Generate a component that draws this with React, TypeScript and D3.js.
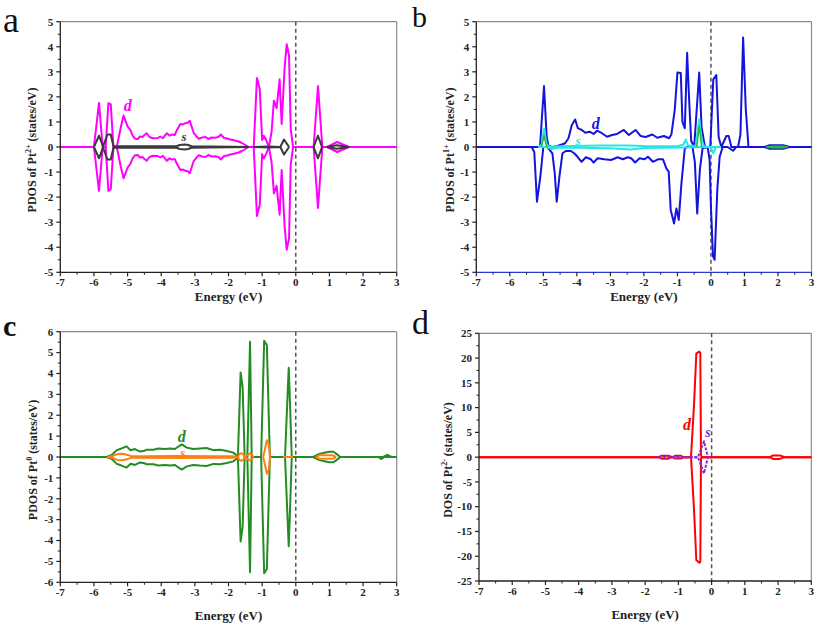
import React from 'react';
import * as d3 from 'd3';

type Pt = [number, number];

const energyTicks = [-7, -6, -5, -4, -3, -2, -1, 0, 1, 2, 3];
const yTicksAB = [-5, -4, -3, -2, -1, 0, 1, 2, 3, 4, 5];
const yTicksC = [-6, -5, -4, -3, -2, -1, 0, 1, 2, 3, 4, 5, 6];
const yTicksD = [-25, -20, -15, -10, -5, 0, 5, 10, 15, 20, 25];

// ---------- Panel a : Pt2+ ----------
const aDUp: Pt[] = [[-7,0],[-6.0,0],[-5.85,1.76],[-5.74,0],[-5.65,0],[-5.57,1.75],[-5.5,1.7],[-5.42,0],[-5.32,0],[-5.2,0.8],[-5.12,1.26],[-5.05,1.0],[-5.0,0.82],[-4.92,0.68],[-4.85,0.45],[-4.78,0.33],[-4.7,0.32],[-4.63,0.42],[-4.55,0.4],[-4.5,0.48],[-4.43,0.55],[-4.35,0.4],[-4.25,0.35],[-4.1,0.36],[-4.03,0.42],[-3.95,0.35],[-3.83,0.55],[-3.75,0.45],[-3.68,0.5],[-3.6,0.48],[-3.53,0.68],[-3.43,0.92],[-3.35,0.9],[-3.28,0.95],[-3.2,0.98],[-3.15,1.05],[-3.08,0.75],[-3.03,0.55],[-2.95,0.42],[-2.88,0.33],[-2.78,0.38],[-2.68,0.4],[-2.6,0.32],[-2.5,0.38],[-2.4,0.37],[-2.3,0.4],[-2.23,0.5],[-2.13,0.36],[-2.04,0.34],[-1.95,0.3],[-1.84,0.27],[-1.7,0.22],[-1.6,0.16],[-1.5,0.08],[-1.4,0],[-1.25,0],[-1.155,2.75],[-1.07,2.3],[-1.0,0.28],[-0.95,0.45],[-0.89,0.3],[-0.8,0],[-0.72,0.6],[-0.65,1.85],[-0.57,1.55],[-0.48,2.7],[-0.42,0.92],[-0.33,3.2],[-0.27,4.1],[-0.2,3.65],[-0.15,0.7],[-0.08,0],[0.53,0],[0.66,2.43],[0.79,0],[0.93,0],[1.23,0.2],[1.58,0],[3,0]];
const aDDown: Pt[] = [[-7,0],[-6.0,0],[-5.85,-1.75],[-5.74,0],[-5.65,0],[-5.57,-1.75],[-5.5,-1.68],[-5.42,0],[-5.32,0],[-5.2,-0.8],[-5.12,-1.25],[-5.05,-1.0],[-5.0,-0.82],[-4.92,-0.68],[-4.85,-0.45],[-4.78,-0.33],[-4.7,-0.32],[-4.63,-0.42],[-4.55,-0.4],[-4.5,-0.48],[-4.43,-0.55],[-4.35,-0.4],[-4.25,-0.35],[-4.1,-0.36],[-4.03,-0.42],[-3.95,-0.35],[-3.83,-0.55],[-3.75,-0.45],[-3.68,-0.5],[-3.6,-0.48],[-3.53,-0.68],[-3.43,-0.92],[-3.35,-0.9],[-3.28,-0.95],[-3.2,-0.98],[-3.15,-1.05],[-3.08,-0.75],[-3.03,-0.55],[-2.95,-0.42],[-2.88,-0.33],[-2.78,-0.38],[-2.68,-0.4],[-2.6,-0.32],[-2.5,-0.38],[-2.4,-0.37],[-2.3,-0.4],[-2.23,-0.5],[-2.13,-0.36],[-2.04,-0.34],[-1.95,-0.3],[-1.84,-0.27],[-1.7,-0.22],[-1.6,-0.16],[-1.5,-0.08],[-1.4,0],[-1.25,0],[-1.155,-2.75],[-1.07,-2.3],[-1.0,-0.28],[-0.95,-0.45],[-0.89,-0.3],[-0.8,0],[-0.72,-0.6],[-0.65,-1.85],[-0.57,-1.55],[-0.48,-2.7],[-0.42,-0.92],[-0.33,-3.2],[-0.27,-4.1],[-0.2,-3.65],[-0.15,-0.7],[-0.08,0],[0.53,0],[0.66,-2.43],[0.79,0],[0.93,0],[1.23,-0.2],[1.58,0],[3,0]];
const aSUp: Pt[][] = [
  [[-6.0,0],[-5.85,0.45],[-5.73,0.02],[-5.6,0.5],[-5.5,0.5],[-5.42,0.03],[-5.3,0.03],[-3.55,0.03],[-3.45,0.08],[-3.3,0.1],[-3.2,0.08],[-3.1,0.03],[-1.4,0]],
  [[-1.25,0],[-0.8,0.02],[-0.46,0],[-0.35,0.3],[-0.2,0]],
  [[0.53,0],[0.66,0.45],[0.78,0]],
  [[0.92,0],[1.22,0.07],[1.58,0]],
];
const aSDown: Pt[][] = [
  [[-6.0,0],[-5.85,-0.45],[-5.73,-0.02],[-5.6,-0.5],[-5.5,-0.5],[-5.42,-0.03],[-5.3,-0.03],[-3.55,-0.03],[-3.45,-0.08],[-3.3,-0.1],[-3.2,-0.08],[-3.1,-0.03],[-1.4,0]],
  [[-1.25,0],[-0.8,-0.02],[-0.46,0],[-0.35,-0.3],[-0.2,0]],
  [[0.53,0],[0.66,-0.45],[0.78,0]],
  [[0.92,0],[1.22,-0.07],[1.58,0]],
];

// ---------- Panel b : Pt1+ ----------
const bDUp: Pt[] = [[-7,0],[-5.1,0],[-4.98,2.43],[-4.9,0.4],[-4.85,0.05],[-4.75,0],[-4.6,0.03],[-4.45,0.1],[-4.35,0.15],[-4.25,0.35],[-4.15,0.88],[-4.05,1.1],[-3.97,0.75],[-3.85,0.68],[-3.75,0.57],[-3.62,0.61],[-3.5,0.52],[-3.4,0.65],[-3.25,0.55],[-3.1,0.41],[-2.95,0.48],[-2.8,0.52],[-2.6,0.68],[-2.45,0.48],[-2.25,0.68],[-2.1,0.44],[-1.95,0.4],[-1.75,0.5],[-1.6,0.37],[-1.4,0.44],[-1.25,0.35],[-1.18,0.5],[-1.08,1.48],[-1.0,2.97],[-0.9,2.95],[-0.85,1.0],[-0.78,0.75],[-0.71,3.76],[-0.65,1.87],[-0.59,0.25],[-0.5,0],[-0.35,2.97],[-0.28,0.8],[-0.18,0],[-0.02,0],[0.07,2.7],[0.16,2.87],[0.23,0.4],[0.31,0],[0.46,0.44],[0.53,0.44],[0.61,0],[0.81,0],[0.88,0.5],[0.96,4.37],[1.04,1.5],[1.12,0],[1.6,0],[1.75,0.07],[2.15,0.07],[2.35,0],[3,0]];
const bDDown: Pt[] = [[-7,0],[-5.35,0],[-5.27,-0.2],[-5.19,-2.18],[-5.09,-1.18],[-5.0,0],[-4.88,0],[-4.73,-0.25],[-4.66,-1.05],[-4.6,-2.18],[-4.52,-1.18],[-4.43,-0.25],[-4.33,-0.16],[-4.18,-0.16],[-4.08,-0.25],[-3.98,-0.39],[-3.86,-0.59],[-3.73,-0.41],[-3.58,-0.49],[-3.5,-0.62],[-3.38,-0.45],[-3.18,-0.49],[-2.98,-0.52],[-2.78,-0.41],[-2.63,-0.49],[-2.48,-0.41],[-2.38,-0.45],[-2.26,-0.62],[-2.13,-0.45],[-1.98,-0.49],[-1.88,-0.39],[-1.73,-0.59],[-1.58,-0.49],[-1.43,-0.49],[-1.33,-0.85],[-1.26,-0.98],[-1.2,-2.51],[-1.1,-3.05],[-1.03,-2.45],[-0.96,-2.91],[-0.88,-1.45],[-0.78,-0.05],[-0.7,0],[-0.55,0],[-0.48,-0.6],[-0.41,-2.65],[-0.33,-0.9],[-0.25,-0.05],[-0.1,0],[-0.04,-0.5],[0.0,-2.38],[0.06,-4.35],[0.11,-4.5],[0.19,-1.7],[0.26,-0.39],[0.35,0],[0.5,0],[0.66,-0.15],[0.75,0],[1.6,0],[1.75,-0.07],[2.15,-0.07],[2.35,0],[3,0]];
const bSUp: Pt[] = [[-5.15,0],[-5.05,0.1],[-4.98,0.72],[-4.9,0.1],[-4.8,0],[-4.5,0.03],[-3.3,0.06],[-2.5,0.06],[-2.0,0.04],[-1.0,0.03],[-0.82,0.1],[-0.75,0.3],[-0.68,0.05],[-0.45,0.05],[-0.4,0.6],[-0.35,1.1],[-0.28,0.3],[-0.2,0],[0.3,0]];
const bSDown: Pt[] = [[-5.15,0],[-4.9,0],[-4.75,-0.08],[-4.55,-0.02],[-3.0,-0.05],[-2.4,-0.1],[-2.0,-0.04],[-0.8,-0.02],[-0.2,0],[-0.02,0],[0.07,-0.25],[0.15,0],[0.3,0]];
const bPUp: Pt[][] = [[[-5.06,0],[-4.98,0.45],[-4.9,0]], [[-0.42,0],[-0.35,0.85],[-0.28,0]], [[1.65,0],[1.8,0.03],[2.15,0.03],[2.3,0]]];
const bPDown: Pt[][] = [[[1.65,0],[1.8,-0.03],[2.15,-0.03],[2.3,0]]];

// ---------- Panel c : Pt0 ----------
const cDUp: Pt[] = [[-7,0],[-5.62,0],[-5.47,0.1],[-5.32,0.33],[-5.18,0.41],[-5.03,0.51],[-4.91,0.32],[-4.78,0.38],[-4.63,0.26],[-4.5,0.3],[-4.43,0.35],[-4.23,0.35],[-4.09,0.41],[-3.89,0.38],[-3.74,0.41],[-3.59,0.38],[-3.49,0.5],[-3.39,0.6],[-3.24,0.45],[-3.05,0.38],[-2.85,0.41],[-2.65,0.43],[-2.45,0.33],[-2.25,0.35],[-2.05,0.29],[-1.86,0.21],[-1.74,0.06],[-1.72,0],[-1.64,4.05],[-1.58,3.35],[-1.52,0],[-1.44,0],[-1.36,5.52],[-1.31,0],[-1.03,0],[-0.94,5.57],[-0.86,5.36],[-0.77,0],[-0.32,0],[-0.21,4.27],[-0.17,2.5],[-0.12,0],[0.52,0],[0.7,0.15],[0.85,0.2],[1.0,0.25],[1.12,0.25],[1.25,0.1],[1.32,0],[2.6,0],[2.72,0.1],[2.85,0],[3,0]];
const cDDown: Pt[] = [[-7,0],[-5.62,0],[-5.47,-0.1],[-5.32,-0.33],[-5.18,-0.41],[-5.03,-0.51],[-4.91,-0.32],[-4.78,-0.38],[-4.63,-0.26],[-4.5,-0.3],[-4.43,-0.35],[-4.23,-0.35],[-4.09,-0.41],[-3.89,-0.38],[-3.74,-0.41],[-3.59,-0.38],[-3.49,-0.5],[-3.39,-0.6],[-3.24,-0.45],[-3.05,-0.38],[-2.85,-0.41],[-2.65,-0.43],[-2.45,-0.33],[-2.25,-0.35],[-2.05,-0.29],[-1.86,-0.21],[-1.74,-0.06],[-1.72,0],[-1.64,-4.05],[-1.58,-3.35],[-1.52,0],[-1.44,0],[-1.36,-5.52],[-1.31,0],[-1.03,0],[-0.94,-5.57],[-0.86,-5.36],[-0.77,0],[-0.32,0],[-0.21,-4.27],[-0.17,-2.5],[-0.12,0],[0.52,0],[0.7,-0.15],[0.85,-0.2],[1.0,-0.25],[1.12,-0.25],[1.25,-0.1],[1.32,0],[2.45,0],[2.55,-0.1],[2.62,0],[3,0]];
const cSUp: Pt[][] = [
  [[-5.6,0],[-5.45,0.05],[-5.3,0.14],[-5.15,0.16],[-5.0,0.1],[-4.9,0.04],[-4.5,0.04],[-3.5,0.05],[-2.5,0.04],[-1.85,0.03],[-1.72,0],[-1.68,0.14],[-1.62,0.18],[-1.56,0.14],[-1.52,0],[-1.42,0.1],[-1.36,0.18],[-1.3,0.1],[-1.26,0]],
  [[-0.97,0],[-0.92,0.35],[-0.86,0.8],[-0.8,0.6],[-0.76,0]],
  [[-0.38,0],[-0.08,0]],
  [[0.6,0],[0.7,0.08],[1.1,0.08],[1.2,0]],
];
const cSDown: Pt[][] = [
  [[-5.6,0],[-5.45,-0.05],[-5.3,-0.14],[-5.15,-0.16],[-5.0,-0.1],[-4.9,-0.04],[-4.5,-0.04],[-3.5,-0.05],[-2.5,-0.04],[-1.85,-0.03],[-1.72,0],[-1.68,-0.14],[-1.62,-0.18],[-1.56,-0.14],[-1.52,0],[-1.42,-0.1],[-1.36,-0.18],[-1.3,-0.1],[-1.26,0]],
  [[-0.97,0],[-0.92,-0.35],[-0.86,-0.8],[-0.8,-0.6],[-0.76,0]],
  [[0.6,0],[0.7,-0.08],[1.1,-0.08],[1.2,0]],
];

// ---------- Panel d : Pt2- ----------
const dDUp: Pt[] = [[-7,0],[-1.6,0],[-1.5,0.3],[-1.3,0.3],[-1.18,0],[-1.1,0.28],[-0.92,0.28],[-0.85,0],[-0.62,0],[-0.53,10.5],[-0.46,20.9],[-0.42,21.1],[-0.37,21.3],[-0.34,21.0],[-0.32,0.5],[-0.3,0],[1.75,0],[1.85,0.35],[2.05,0.35],[2.2,0],[3,0]];
const dDDown: Pt[] = [[-7,0],[-1.6,0],[-1.5,-0.3],[-1.3,-0.3],[-1.18,0],[-1.1,-0.28],[-0.92,-0.28],[-0.85,0],[-0.62,0],[-0.53,-10.5],[-0.46,-20.8],[-0.42,-21.0],[-0.37,-21.3],[-0.34,-21.1],[-0.32,-0.5],[-0.3,0],[1.75,0],[1.85,-0.35],[2.05,-0.35],[2.2,0],[3,0]];
const dSUp: Pt[] = [[-1.6,0],[-1.5,0.12],[-1.3,0.12],[-1.2,0],[-1.1,0.1],[-0.95,0.1],[-0.85,0],[-0.41,0],[-0.23,3.2],[-0.11,0],[-0.02,0]];
const dSDown: Pt[] = [[-1.6,0],[-1.5,-0.12],[-1.3,-0.12],[-1.2,0],[-1.1,-0.1],[-0.95,-0.1],[-0.85,0],[-0.41,0],[-0.23,-3.3],[-0.11,0],[-0.02,0]];

type Series = { segs: Pt[][]; color: string; width: number; dash?: string };
type Label = { text: string; x: number; y: number; color: string; size: number };
type PanelCfg = {
  left: number; right: number; top: number; bottom: number;
  yTicks: number[];
  series: Series[];
  labels: Label[];
  yTitle: [string, string, string];
  yTitleX: number; yTitleY: number;
  xTitleY: number;
  letter: { text: string; x: number; y: number; size: number; weight: string };
  bottomColor?: string;
};

const SERIF = "'Times New Roman', 'Liberation Serif', serif";

const panels: PanelCfg[] = [
  {
    left: 60.3, right: 396.7, top: 21.7, bottom: 272.3, yTicks: yTicksAB,
    series: [
      { segs: [aDUp], color: '#FF00FF', width: 2 },
      { segs: [aDDown], color: '#FF00FF', width: 2 },
      { segs: aSUp, color: '#3a3a3a', width: 2 },
      { segs: aSDown, color: '#3a3a3a', width: 2 },
    ],
    labels: [
      { text: 'd', x: 127.7, y: 111, color: '#FF00FF', size: 16 },
      { text: 's', x: 184, y: 141, color: '#3a3a3a', size: 13 },
    ],
    yTitle: ['PDOS of Pt', '2+', ' (states/eV)'], yTitleX: 31.5, yTitleY: 150,
    xTitleY: 301,
    letter: { text: 'a', x: 3, y: 32, size: 36, weight: 'normal' },
  },
  {
    left: 476.3, right: 811.5, top: 21.7, bottom: 272.3, yTicks: yTicksAB,
    series: [
      { segs: [bDUp], color: '#1414DC', width: 2 },
      { segs: [bDDown], color: '#1414DC', width: 2 },
      { segs: [bSUp], color: '#26E6E6', width: 2 },
      { segs: [bSDown], color: '#26E6E6', width: 2 },
      { segs: bPUp, color: '#22C030', width: 1.5 },
      { segs: bPDown, color: '#22C030', width: 1.5 },
    ],
    labels: [
      { text: 'd', x: 595.7, y: 129, color: '#1414DC', size: 16 },
      { text: 's', x: 578, y: 145, color: '#26E6E6', size: 13 },
    ],
    yTitle: ['PDOS of Pt', '1+', ' (states/eV)'], yTitleX: 449.5, yTitleY: 150,
    xTitleY: 301,
    letter: { text: 'b', x: 412, y: 27, size: 30, weight: 'normal' },
    bottomColor: '#2a3ad0',
  },
  {
    left: 60.3, right: 396.7, top: 331.7, bottom: 582.3, yTicks: yTicksC,
    series: [
      { segs: [cDUp], color: '#238C23', width: 2 },
      { segs: [cDDown], color: '#238C23', width: 2 },
      { segs: cSUp, color: '#FF7F10', width: 2 },
      { segs: cSDown, color: '#FF7F10', width: 2 },
    ],
    labels: [
      { text: 'd', x: 181.7, y: 442, color: '#238C23', size: 16 },
      { text: 's', x: 182.7, y: 457, color: '#FF7F10', size: 13 },
    ],
    yTitle: ['PDOS of Pt', '0', ' (states/eV)'], yTitleX: 33, yTitleY: 460,
    xTitleY: 620,
    letter: { text: 'c', x: 3, y: 336, size: 30, weight: 'bold' },
  },
  {
    left: 479, right: 811.3, top: 333.3, bottom: 581, yTicks: yTicksD,
    series: [
      { segs: [dDUp], color: '#FF0000', width: 2 },
      { segs: [dDDown], color: '#FF0000', width: 2 },
      { segs: [dSUp], color: '#8A2BD0', width: 2, dash: '3,1.5' },
      { segs: [dSDown], color: '#8A2BD0', width: 2, dash: '3,1.5' },
    ],
    labels: [
      { text: 'd', x: 687, y: 430, color: '#FF0000', size: 16 },
      { text: 's', x: 708, y: 437, color: '#8A2BD0', size: 14 },
    ],
    yTitle: ['DOS of Pt', '2-', ' (states/eV)'], yTitleX: 448, yTitleY: 460,
    xTitleY: 619,
    letter: { text: 'd', x: 412, y: 334, size: 34, weight: 'normal' },
  },
];

function Panel({ p }: { p: PanelCfg }) {
  const x = d3.scaleLinear().domain([energyTicks[0], energyTicks[energyTicks.length - 1]]).range([p.left, p.right]);
  const y = d3.scaleLinear().domain([p.yTicks[0], p.yTicks[p.yTicks.length - 1]]).range([p.bottom, p.top]);
  const line = d3.line<Pt>().x(d => x(d[0])).y(d => y(d[1]));
  const xMinor = energyTicks.slice(0, -1).map((t, i) => (t + energyTicks[i + 1]) / 2);
  const yMinor = p.yTicks.slice(0, -1).map((t, i) => (t + p.yTicks[i + 1]) / 2);
  const cx = (p.left + p.right) / 2;
  return (
    <g>
      <line x1={p.left} x2={p.right} y1={p.top} y2={p.top} stroke="#8a8a8a" strokeWidth={1.2} />
      <line x1={p.right} x2={p.right} y1={p.top} y2={p.bottom} stroke="#8a8a8a" strokeWidth={1.2} />
      <line x1={x(0)} x2={x(0)} y1={p.top} y2={p.bottom} stroke="#555" strokeWidth={1.5} strokeDasharray="4,3" />
      {p.series.map((s, i) =>
        s.segs.map((seg, j) => (
          <path key={`${i}-${j}`} d={line(seg) || ''} fill="none" stroke={s.color} strokeWidth={s.width}
            strokeDasharray={s.dash} strokeLinejoin="round" />
        ))
      )}
      <line x1={p.left} x2={p.left} y1={p.top} y2={p.bottom} stroke="#222" strokeWidth={1.3} />
      <line x1={p.left} x2={p.right} y1={p.bottom} y2={p.bottom} stroke={p.bottomColor || '#222'} strokeWidth={1.3} />
      {energyTicks.map(t => (
        <g key={`xt${t}`}>
          <line x1={x(t)} x2={x(t)} y1={p.bottom} y2={p.bottom + 4} stroke="#222" strokeWidth={1.2} />
          <text x={x(t)} y={p.bottom + 14} textAnchor="middle" fontFamily={SERIF} fontWeight="bold" fontSize={11} fill="#222">{t}</text>
        </g>
      ))}
      {xMinor.map(t => (
        <line key={`xm${t}`} x1={x(t)} x2={x(t)} y1={p.bottom} y2={p.bottom + 2.5} stroke="#222" strokeWidth={1} />
      ))}
      {p.yTicks.map(t => (
        <g key={`yt${t}`}>
          <line x1={p.left - 4} x2={p.left} y1={y(t)} y2={y(t)} stroke="#222" strokeWidth={1.2} />
          <text x={p.left - 7} y={y(t) + 3.8} textAnchor="end" fontFamily={SERIF} fontWeight="bold" fontSize={11} fill="#222">{t}</text>
        </g>
      ))}
      {yMinor.map(t => (
        <line key={`ym${t}`} x1={p.left - 2.5} x2={p.left} y1={y(t)} y2={y(t)} stroke="#222" strokeWidth={1} />
      ))}
      <text x={cx} y={p.xTitleY} textAnchor="middle" fontFamily={SERIF} fontWeight="bold" fontSize={13} fill="#222">Energy (eV)</text>
      <text transform={`translate(${p.yTitleX},${p.yTitleY}) rotate(-90)`} textAnchor="middle" dominantBaseline="central"
        fontFamily={SERIF} fontWeight="bold" fontSize={12} fill="#222">
        {p.yTitle[0]}
        <tspan dy={-4} fontSize={8}>{p.yTitle[1]}</tspan>
        <tspan dy={4}>{p.yTitle[2]}</tspan>
      </text>
      {p.labels.map(l => (
        <text key={l.text} x={l.x} y={l.y} textAnchor="middle" fontFamily={SERIF} fontStyle="italic" fontWeight="bold"
          fontSize={l.size} fill={l.color}>{l.text}</text>
      ))}
      <text x={p.letter.x} y={p.letter.y} fontFamily={SERIF} fontWeight={p.letter.weight} fontSize={p.letter.size} fill="#111">{p.letter.text}</text>
    </g>
  );
}

export default function App() {
  return (
    <svg width={817} height={626} style={{ position: 'absolute', left: 0, top: 0, background: '#fff' }}>
      <rect x={0} y={0} width={817} height={626} fill="#fff" />
      {panels.map((p, i) => <Panel key={i} p={p} />)}
    </svg>
  );
}
